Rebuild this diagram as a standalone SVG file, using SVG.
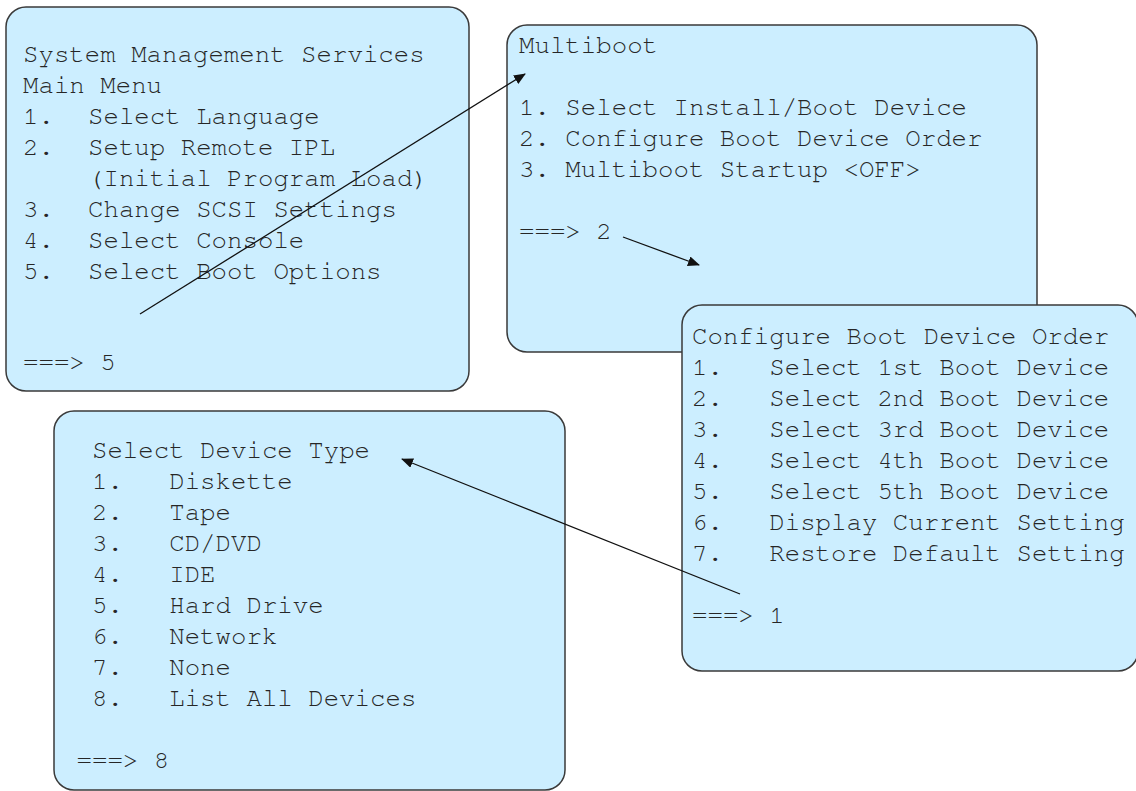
<svg xmlns="http://www.w3.org/2000/svg" width="1136" height="791" viewBox="0 0 1136 791">
  <defs>
    <style>
      .panel { fill: #cceeff; stroke: #3a3a3a; stroke-width: 1.5; }
      .term { font-family: "Nimbus Mono PS", "Nimbus Mono L", "FreeMono", "Courier New", "Liberation Mono", monospace; font-size: 25.75px; fill: #262626; white-space: pre; }
      .link { stroke: #111111; stroke-width: 1.3; fill: none; marker-end: url(#head); }
    </style>
    <marker id="head" markerUnits="userSpaceOnUse" markerWidth="14" markerHeight="12" refX="11" refY="5" orient="auto">
      <path d="M0,0 L12,5 L0,10 z" fill="#111111"/>
    </marker>
  </defs>

  <rect width="1136" height="791" fill="#ffffff"/>

  <!-- SMS main menu -->
  <g id="sms-main">
    <rect class="panel" x="6" y="7" width="463" height="384" rx="20" ry="20"/>
    <text class="term" xml:space="preserve">
      <tspan x="23" y="62">System Management Services</tspan>
      <tspan x="23" y="93">Main Menu</tspan>
      <tspan x="23" y="124">1.</tspan><tspan x="88" y="124">Select Language</tspan>
      <tspan x="23" y="155">2.</tspan><tspan x="88" y="155">Setup Remote IPL</tspan>
      <tspan x="88" y="186">(Initial Program Load)</tspan>
      <tspan x="23" y="217">3.</tspan><tspan x="88" y="217">Change SCSI Settings</tspan>
      <tspan x="23" y="248">4.</tspan><tspan x="88" y="248">Select Console</tspan>
      <tspan x="23" y="279">5.</tspan><tspan x="88" y="279">Select Boot Options</tspan>
      <tspan x="23" y="370">===&gt; 5</tspan>
    </text>
  </g>

  <!-- Multiboot menu -->
  <g id="multiboot">
    <rect class="panel" x="507" y="25" width="530" height="327" rx="20" ry="20"/>
    <text class="term" xml:space="preserve">
      <tspan x="519" y="53">Multiboot</tspan>
      <tspan x="519" y="115">1. Select Install/Boot Device</tspan>
      <tspan x="519" y="146">2. Configure Boot Device Order</tspan>
      <tspan x="519" y="177">3. Multiboot Startup &lt;OFF&gt;</tspan>
      <tspan x="519" y="239">===&gt; 2</tspan>
    </text>
  </g>

  <!-- Boot order menu -->
  <g id="boot-order">
    <rect class="panel" x="682" y="305" width="456" height="366" rx="20" ry="20"/>
    <text class="term" xml:space="preserve">
      <tspan x="692" y="344">Configure Boot Device Order</tspan>
      <tspan x="692" y="375">1.   Select 1st Boot Device</tspan>
      <tspan x="692" y="406">2.   Select 2nd Boot Device</tspan>
      <tspan x="692" y="437">3.   Select 3rd Boot Device</tspan>
      <tspan x="692" y="468">4.   Select 4th Boot Device</tspan>
      <tspan x="692" y="499">5.   Select 5th Boot Device</tspan>
      <tspan x="692" y="530">6.   Display Current Setting</tspan>
      <tspan x="692" y="561">7.   Restore Default Setting</tspan>
      <tspan x="692" y="623">===&gt; 1</tspan>
    </text>
  </g>

  <!-- Device type menu -->
  <g id="device-type">
    <rect class="panel" x="54" y="411" width="511" height="379" rx="20" ry="20"/>
    <text class="term" xml:space="preserve">
      <tspan x="76.5" y="458"> Select Device Type</tspan>
      <tspan x="76.5" y="489"> 1.   Diskette</tspan>
      <tspan x="76.5" y="520"> 2.   Tape</tspan>
      <tspan x="76.5" y="551"> 3.   CD/DVD</tspan>
      <tspan x="76.5" y="582"> 4.   IDE</tspan>
      <tspan x="76.5" y="613"> 5.   Hard Drive</tspan>
      <tspan x="76.5" y="644"> 6.   Network</tspan>
      <tspan x="76.5" y="675"> 7.   None</tspan>
      <tspan x="76.5" y="706"> 8.   List All Devices</tspan>
      <tspan x="76.5" y="768">===&gt; 8</tspan>
    </text>
  </g>

  <!-- selection flow -->
  <g id="connectors">
    <line class="link" x1="140" y1="314" x2="525" y2="74"/>
    <line class="link" x1="623" y1="237" x2="699" y2="265"/>
    <line class="link" x1="740" y1="594" x2="402" y2="459"/>
  </g>
</svg>
